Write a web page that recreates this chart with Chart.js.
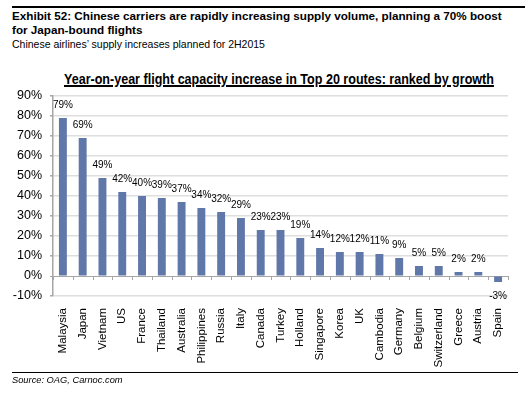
<!DOCTYPE html>
<html>
<head>
<meta charset="utf-8">
<script src="https://cdn.jsdelivr.net/npm/chart.js@4.4.0/dist/chart.umd.min.js"></script>
<style>
  html, body { margin: 0; padding: 0; background: #fff; }
  body { width: 525px; height: 396px; position: relative; overflow: hidden; font-family: "Liberation Sans", Arial, sans-serif; }
  .rule { position: absolute; background: #000; }
  .head { position: absolute; left: 12px; font-size: 11.7px; line-height: 14px; color: #000; white-space: nowrap; }
  #chartTitle { position: absolute; top: 71px; left: 64px; font-weight: bold; font-size: 14.5px; line-height: 16px; text-decoration: underline; text-decoration-thickness: 1.5px; white-space: nowrap; transform-origin: 0 0; }
  #source { position: absolute; left: 12px; top: 374px; font-size: 9.3px; line-height: 12px; font-style: italic; }
  #wrap { position: absolute; left: 0; top: 0; width: 525px; height: 396px; }
</style>
</head>
<body>
<div class="rule" style="left:12px; top:6px; width:513px; height:2px;"></div>
<div class="head" style="top:9px; font-weight:bold;">Exhibit 52: Chinese carriers are rapidly increasing supply volume, planning a 70% boost</div>
<div class="head" style="top:23px; font-weight:bold;">for Japan-bound flights</div>
<div class="head" style="top:37px; font-size:10.5px;">Chinese airlines’ supply increases planned for 2H2015</div>
<div id="chartTitle">Year-on-year flight capacity increase in Top 20 routes: ranked by growth</div>
<div id="wrap"><canvas id="capacityChart"></canvas></div>
<div class="rule" style="left:12px; top:372px; width:506px; height:1px;"></div>
<div id="source">Source: OAG, Carnoc.com</div>

<script>
// routes, ranked by growth
const routes = ['Malaysia', 'Japan', 'Vietnam', 'US', 'France', 'Thailand', 'Australia', 'Philippines', 'Russia', 'Italy',
  'Canada', 'Turkey', 'Holland', 'Singapore', 'Korea', 'UK', 'Cambodia', 'Germany', 'Belgium', 'Switzerland',
  'Greece', 'Austria', 'Spain'];
// yoy capacity increase, %
const growth = [79, 69, 49, 42, 40, 39, 37, 34, 32, 29, 23, 23, 19, 14, 12, 12, 11, 9, 5, 5, 2, 2, -3];
// y axis ticks
const yMin = -10;
const yMax = 90;
const yStep = 10;

// squeeze the chart title into a condensed look (no narrow font installed)
const titleEl = document.getElementById('chartTitle');
titleEl.style.transform = 'scaleX(' + (430 / titleEl.offsetWidth) + ')';

Chart.defaults.font.family = '"Liberation Sans", Arial, sans-serif';
Chart.defaults.color = '#000';

// value labels above / below each bar
const valueLabels = {
  id: 'valueLabels',
  afterDatasetsDraw(chart) {
    const ctx = chart.ctx;
    const meta = chart.getDatasetMeta(0);
    ctx.save();
    ctx.font = '10px "Liberation Sans", Arial, sans-serif';
    ctx.fillStyle = '#000';
    ctx.textAlign = 'center';
    ctx.textBaseline = 'middle';
    meta.data.forEach((bar, i) => {
      const v = growth[i];
      const y = v >= 0 ? bar.y - 12.5 : bar.y + 14;
      ctx.fillText(v + '%', bar.x, y);
    });
    ctx.restore();
  }
};

// small tick marks hanging under the 0% line, between categories
const zeroTicks = {
  id: 'zeroTicks',
  afterDatasetsDraw(chart) {
    const ctx = chart.ctx;
    const x = chart.scales.x;
    const y0 = chart.scales.y.getPixelForValue(0);
    ctx.save();
    ctx.strokeStyle = '#a6a6a6';
    ctx.lineWidth = 1;
    ctx.beginPath();
    for (let i = 0; i <= routes.length; i++) {
      let px;
      if (i === 0) px = chart.chartArea.left;
      else if (i === routes.length) px = chart.chartArea.right;
      else px = (x.getPixelForValue(i - 1) + x.getPixelForValue(i)) / 2;
      px = Math.round(px) + 0.5;
      ctx.moveTo(px, y0);
      ctx.lineTo(px, y0 + 4);
    }
    ctx.stroke();
    ctx.restore();
  }
};

const capacityCtx = document.getElementById('capacityChart').getContext('2d');
const capacityChart = new Chart(capacityCtx, {
  type: 'bar',
  data: {
    labels: routes,
    datasets: [{
      data: growth,
      backgroundColor: '#5f77a9',
      borderWidth: 0,
      barPercentage: 0.4,
      categoryPercentage: 1
    }]
  },
  options: {
    responsive: true,
    maintainAspectRatio: false,
    animation: false,
    layout: { padding: { top: 96, right: 17, bottom: 0, left: 0 } },
    plugins: {
      legend: { display: false },
      tooltip: { enabled: false }
    },
    scales: {
      x: {
        offset: true,
        grid: { display: false, drawTicks: false },
        border: { display: false },
        ticks: {
          autoSkip: false,
          minRotation: 90,
          maxRotation: 90,
          padding: 12,
          font: { size: 11.5 }
        },
        afterFit(scale) { scale.height = 100; }
      },
      y: {
        min: yMin,
        max: yMax,
        ticks: {
          stepSize: yStep,
          padding: 8,
          font: { size: 12.5 },
          callback: v => v + '%'
        },
        grid: {
          color: c => (c.tick && c.tick.value === 0) ? '#a6a6a6' : '#dedede',
          lineWidth: c => (c.tick && c.tick.value === 0) ? 1 : 1.5,
          tickColor: '#a6a6a6',
          tickLength: 3
        },
        border: { display: true, color: '#a6a6a6', width: 1.5 },
        afterFit(scale) { scale.width = 53; }
      }
    }
  },
  plugins: [valueLabels, zeroTicks]
});
</script>
</body>
</html>
